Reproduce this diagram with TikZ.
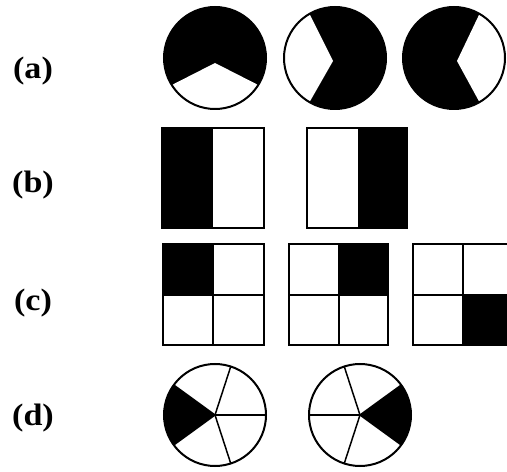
\documentclass[tikz,border=0pt]{standalone}
\usepackage{fontspec}
\setmainfont{Liberation Serif}
\usetikzlibrary{calc}
\begin{document}
\begin{tikzpicture}[x=1pt,y=1pt,
  outl/.style={draw=black,line width=2pt},
  lbl/.style={font=\fontsize{31}{33}\selectfont\bfseries,inner sep=0pt,xscale=1.1}]
\useasboundingbox (0,0) rectangle (507,472);
\clip (0,0) rectangle (507,472);
% labels
\node[lbl] (la) at (33,401) {(a)};
\node[lbl] (lb) at (33,287) {(b)};
\node[lbl] (lc) at (33,169) {(c)};
\node[lbl] (ld) at (33,54) {(d)};
% row a
\def\R{51}
\coordinate (a1) at (215,414);
\coordinate (a2) at (335,414);
\coordinate (a3) at (454,414);
\fill[black] (a1) circle (\R);
\fill[white] (215,409) -- ($(a1)+(212:\R)$) arc[start angle=212,end angle=328,radius=\R] -- cycle;
\draw[outl] (a1) circle (\R);
\fill[black] (a2) circle (\R);
\fill[white] (333,411) -- ($(a2)+(120:\R)$) arc[start angle=120,end angle=240,radius=\R] -- cycle;
\draw[outl] (a2) circle (\R);
\fill[black] (a3) circle (\R);
\fill[white] (457,411) -- ($(a3)+(-60:\R)$) arc[start angle=-60,end angle=60,radius=\R] -- cycle;
\draw[outl] (a3) circle (\R);
% row b
\fill[black] (162,244) rectangle (213,344);
\draw[outl] (162,244) rectangle (264,344);
\fill[black] (358,244) rectangle (407,344);
\draw[outl] (307,244) rectangle (407,344);
% row c
\fill[black] (163,177) rectangle (213,228);
\draw[outl] (163,127) rectangle (264,228);
\draw[outl] (213,127) -- (213,228) (163,177) -- (264,177);
\fill[black] (339,177) rectangle (388,228);
\draw[outl] (289,127) rectangle (388,228);
\draw[outl] (339,127) -- (339,228) (289,177) -- (388,177);
\fill[black] (463,127) rectangle (513,177);
\draw[outl] (413,127) rectangle (513,228);
\draw[outl] (463,127) -- (463,228) (413,177) -- (513,177);
% row d
\coordinate (d1) at (215,57);
\coordinate (d2) at (360,57);
\fill[black] (d1) -- ($(d1)+(144:\R)$) arc[start angle=144,end angle=216,radius=\R] -- cycle;
\draw[outl] (d1) circle (\R);
\foreach \a in {0,72,144,216,288} \draw[line width=1.5pt] (d1) -- ($(d1)+(\a:\R)$);
\fill[black] (d2) -- ($(d2)+(-36:\R)$) arc[start angle=-36,end angle=36,radius=\R] -- cycle;
\draw[outl] (d2) circle (\R);
\foreach \a in {180,108,36,324,252} \draw[line width=1.5pt] (d2) -- ($(d2)+(\a:\R)$);
\end{tikzpicture}
\end{document}
